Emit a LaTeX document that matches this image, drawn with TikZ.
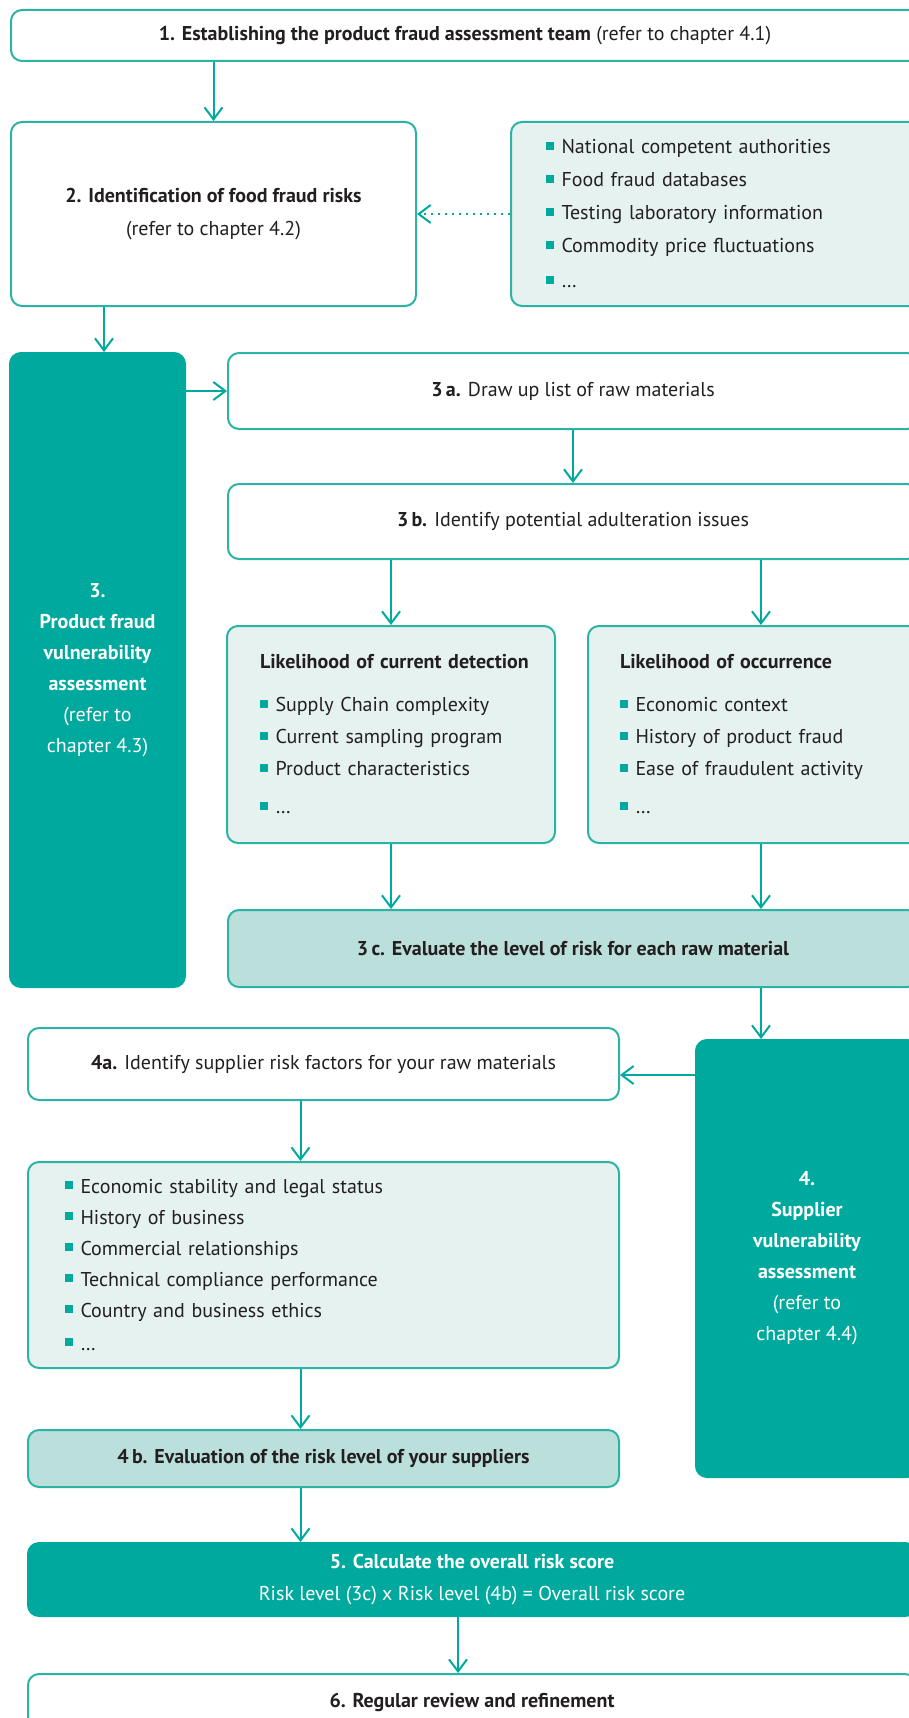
\documentclass[tikz,border=0pt]{standalone}
\usepackage{fontspec}
\setmainfont{PT Sans}
\usetikzlibrary{arrows.meta}
\definecolor{fTeal}{HTML}{00A99D}
\definecolor{fLine}{HTML}{2BB3A6}
\definecolor{fPale}{HTML}{E6F2EF}
\definecolor{fMid}{HTML}{BBDFDA}
\definecolor{fInk}{HTML}{231F20}
\newcommand{\sqbul}{\textcolor{fTeal}{\rule[4pt]{7.5pt}{8pt}}\hspace{8pt}}

\begin{document}
\begin{tikzpicture}[x=1pt, y=-1pt, line width=2pt,
    every node/.style={font=\fontsize{20}{32}\selectfont, text=fInk},
    stepbox/.style={draw=fLine, fill=white, rounded corners=11pt, inner sep=0pt},
    listbox/.style={stepbox, fill=fPale, align=left},
    evalbox/.style={stepbox, fill=fMid},
    phasebox/.style={draw=fTeal, fill=fTeal, rounded corners=11pt, inner sep=0pt, text=white, align=center},
    flow/.style={draw=fTeal, -{Straight Barb[length=12pt, width=18pt]}},
  ]
  \path[use as bounding box, fill=white] (0,0) rectangle (909,1718);
  \clip (0,0) rectangle (909,1718);

  % steps 1 and 2, with the sources
  \node[stepbox, minimum width=908pt, minimum height=51pt] (s1) at (465,35.5)
    {\textbf{1. Establishing the product fraud assessment team} (refer to chapter 4.1)};
  \node[stepbox, align=center, minimum width=405pt, minimum height=184pt,
    font=\fontsize{20}{33}\selectfont] (s2) at (213.5,214)
    {\textbf{2. Identification of food fraud risks}\\ (refer to chapter 4.2)};
  \node[listbox, anchor=west, minimum width=420pt, minimum height=184pt, text width=350pt,
    inner xsep=35pt, font=\fontsize{20}{33}\selectfont] (src) at (510,214)
    {\sqbul National competent authorities\\ \sqbul Food fraud databases\\
     \sqbul Testing laboratory information\\ \sqbul Commodity price fluctuations\\[2pt]
     \sqbul\ldots};

  % step 3
  \node[phasebox, minimum width=175pt, minimum height=634pt, font=\fontsize{20}{31}\selectfont]
    (s3) at (97.5,670)
    {\textbf{3.}\\ \textbf{Product fraud}\\ \textbf{vulnerability}\\ \textbf{assessment}\\
     (refer to\\ chapter 4.3)};
  \node[stepbox, minimum width=690pt, minimum height=76pt] (s3a) at (573,391)
    {\textbf{3\,a.} Draw up list of raw materials};
  \node[stepbox, minimum width=690pt, minimum height=75pt] (s3b) at (573,521.5)
    {\textbf{3\,b.} Identify potential adulteration issues};
  \node[listbox, minimum width=328pt, minimum height=217pt, text width=262pt, inner xsep=33pt]
    (det) at (391,734.5)
    {\textbf{\mbox{Likelihood of current detection}}\\[11pt]
     \sqbul Supply Chain complexity\\ \sqbul Current sampling program\\
     \sqbul Product characteristics\\[6pt] \sqbul\ldots};
  \node[listbox, minimum width=346pt, minimum height=217pt, text width=282pt, inner xsep=32pt]
    (occ) at (761,734.5)
    {\textbf{\mbox{Likelihood of occurrence}}\\[11pt]
     \sqbul Economic context\\ \sqbul History of product fraud\\
     \sqbul Ease of fraudulent activity\\[6pt] \sqbul\ldots};
  \node[evalbox, minimum width=690pt, minimum height=77pt] (s3c) at (573,948.5)
    {\textbf{3\,c. Evaluate the level of risk for each raw material}};

  % step 4
  \node[phasebox, minimum width=222pt, minimum height=437pt, font=\fontsize{20}{31}\selectfont]
    (s4) at (807,1258.5)
    {\textbf{4.}\\ \textbf{Supplier}\\ \textbf{vulnerability}\\ \textbf{assessment}\\
     (refer to\\ chapter 4.4)};
  \node[stepbox, minimum width=591pt, minimum height=72pt] (s4a) at (323.5,1064)
    {\textbf{4a.} Identify supplier risk factors for your raw materials};
  \node[listbox, minimum width=591pt, minimum height=206pt, text width=517pt, inner xsep=37pt,
    font=\fontsize{20}{31}\selectfont] (sup) at (323.5,1265)
    {\sqbul Economic stability and legal status\\ \sqbul History of business\\
     \sqbul Commercial relationships\\ \sqbul Technical compliance performance\\
     \sqbul Country and business ethics\\[2pt] \sqbul\ldots};
  \node[evalbox, minimum width=591pt, minimum height=57pt] (s4b) at (323.5,1458.5)
    {\textbf{4\,b. Evaluation of the risk level of your suppliers}};

  % steps 5 and 6
  \node[phasebox, minimum width=888pt, minimum height=73pt] (s5) at (472,1579.5)
    {\textbf{5. Calculate the overall risk score}\\ Risk level (3c) x Risk level (4b) = Overall risk score};
  \node[stepbox, minimum width=888pt, minimum height=56pt] (s6) at (472,1702)
    {\textbf{6. Regular review and refinement}};

  % connectors
  \draw[flow] (s1.south -| s2.north) -- (s2.north);
  \draw[flow, dash pattern=on 2pt off 5pt] (src.west) -- (s2.east);
  \draw[flow] ([xshift=6.5pt]s3.north |- s2.south) -- ([xshift=6.5pt]s3.north);
  \draw[flow] (s3.east |- s3a.west) -- (s3a.west);
  \draw[flow] (s3a) -- (s3b);
  \draw[flow] (s3b.south -| det.north) -- (det.north);
  \draw[flow] (s3b.south -| occ.north) -- (occ.north);
  \draw[flow] (det.south) -- (det.south |- s3c.north);
  \draw[flow] (occ.south) -- (occ.south |- s3c.north);
  \draw[flow] (s3c.south -| occ.south) -- (occ.south |- s4.north);
  \draw[flow] ([yshift=-11pt]s4a.east -| s4.west) -- ([yshift=-11pt]s4a.east);
  \draw[flow] ([xshift=-23pt]s4a.south) -- ([xshift=-23pt]sup.north);
  \draw[flow] ([xshift=-23pt]sup.south) -- ([xshift=-23pt]s4b.north);
  \draw[flow] ([xshift=-23pt]s4b.south) -- ([xshift=-23pt]s4b.south |- s5.north);
  \draw[flow] ([xshift=-14pt]s5.south) -- ([xshift=-14pt]s6.north);
\end{tikzpicture}
\end{document}
